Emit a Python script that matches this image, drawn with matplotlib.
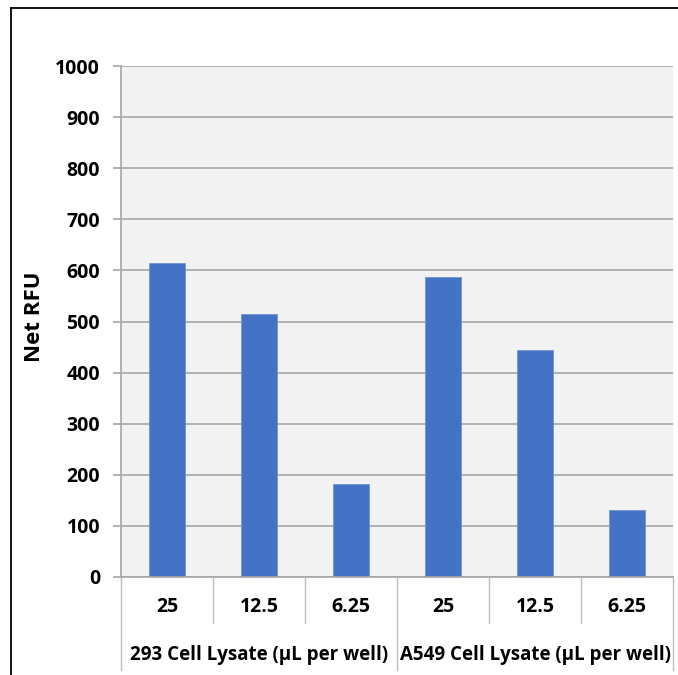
import matplotlib
matplotlib.use("Agg")
import matplotlib.pyplot as plt
from matplotlib.lines import Line2D
import matplotlib.transforms as mtransforms

sub_labels = ["25", "12.5", "6.25", "25", "12.5", "6.25"]
group_labels = ["293 Cell Lysate (µL per well)", "A549 Cell Lysate (µL per well)"]
values = [615, 515, 182, 587, 444, 131]
y_ticks = [0, 100, 200, 300, 400, 500, 600, 700, 800, 900, 1000]

plt.rcParams['font.family'] = ['Open Sans', 'DejaVu Sans']

W, H = 678, 675
fig = plt.figure(figsize=(W / 100, H / 100), dpi=100)
fig.patch.set_facecolor("white")

ax_l, ax_r, ax_b, ax_t = 121, 673, 577, 66
ax = fig.add_axes([ax_l / W, 1 - ax_b / H, (ax_r - ax_l) / W, (ax_b - ax_t) / H])
ax.set_facecolor("#f2f2f2")

n = len(values)
xs = list(range(n))
ax.bar(xs, values, width=0.4, color="#4472C4", edgecolor="#6f93d6", linewidth=0.6, zorder=3)
ax.set_xlim(-0.5, n - 0.5)
ax.set_ylim(0, 1000)
ax.set_yticks(y_ticks)
ax.set_yticklabels([str(v) for v in y_ticks], fontsize=14, fontweight="bold")
ax.yaxis.grid(True, color="#a6a6a6", linewidth=1.2, zorder=1)
ax.tick_params(axis="y", length=5.5, width=1.2, color="#a6a6a6", pad=9.5)
ax.set_xticks([])
for s in ["top", "right", "bottom"]:
    ax.spines[s].set_visible(False)
ax.spines["left"].set_color("#a6a6a6")
ax.spines["left"].set_linewidth(1.2)

fig.text(35 / W, 1 - 317 / H, "Net RFU", rotation=90, ha="center", va="center",
         fontsize=16, fontweight="bold")

# category axis
trans = mtransforms.blended_transform_factory(ax.transData, ax.transAxes)
px = 1.0 / (ax_b - ax_t)  # one pixel in axes fraction
y_sub = -(623 - ax_b) * px
y_grp = -(670 - ax_b) * px
ax.plot([-0.5, n - 0.5], [0, 0], transform=trans, color="#a6a6a6", lw=1.2, clip_on=False, zorder=4)
for i in range(n + 1):
    b = i - 0.5
    bottom = y_grp if i in (0, 3, 6) else y_sub
    ax.plot([b, b], [0, bottom], transform=trans, color="#bfbfbf", lw=1.0, clip_on=False)
for i, lab in enumerate(sub_labels):
    ax.text(i, -(607 - ax_b) * px, lab, transform=trans, ha="center", va="center",
            fontsize=14, fontweight="bold")
for g, lab in enumerate(group_labels):
    ax.text(g * 3 + 1, -(655 - ax_b) * px, lab, transform=trans, ha="center", va="center",
            fontsize=13.5, fontweight="bold")

# outer frame (top and left)
fig.add_artist(Line2D([11 / W, 1.0], [1 - 8 / H, 1 - 8 / H], color="black", lw=1.3, transform=fig.transFigure))
fig.add_artist(Line2D([11 / W, 11 / W], [0, 1 - 8 / H], color="black", lw=1.3, transform=fig.transFigure))

fig.savefig("out.png", dpi=100)
